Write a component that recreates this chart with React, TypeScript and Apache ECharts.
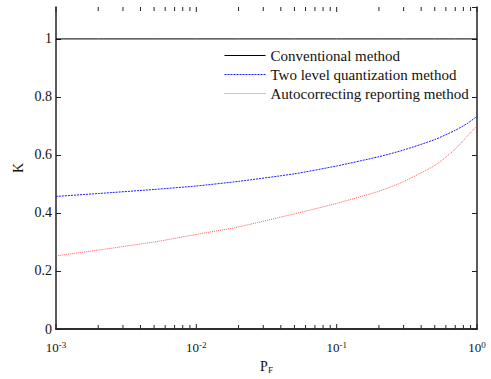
import React, { useEffect, useRef } from "react";
import * as echarts from "echarts";

const pfValues = [0.001, 0.002, 0.005, 0.01, 0.02, 0.05, 0.1, 0.2, 0.3, 0.5, 0.7, 0.85, 1];
const conventionalK = [1, 1, 1, 1, 1, 1, 1, 1, 1, 1, 1, 1, 1];
const twoLevelK = [0.457, 0.467, 0.481, 0.493, 0.509, 0.535, 0.562, 0.594, 0.617, 0.653, 0.685, 0.708, 0.733];
const autocorrectK = [0.252, 0.272, 0.3, 0.326, 0.352, 0.397, 0.433, 0.475, 0.508, 0.564, 0.62, 0.664, 0.7];
const seriesNames = ["Conventional method", "Two level quantization method", "Autocorrecting reporting method"];
const xDecades = [0.001, 0.01, 0.1, 1];
const minorFactors = [2, 3, 4, 5, 6, 7, 8, 9];

const FONT = "Liberation Serif";
const Y_MAX = 1.11;

export default function App() {
  const ref = useRef<HTMLDivElement>(null);
  useEffect(() => {
    if (!ref.current) return;
    const chart = echarts.init(ref.current, null, { renderer: "svg" });
    const tickData: number[][] = [];
    xDecades.forEach((d, i) => {
      tickData.push([d, 1]);
      if (i < xDecades.length - 1) minorFactors.forEach((f) => tickData.push([d * f, 0]));
    });
    const pair = (ys: number[]) => pfValues.map((x, i) => [x, ys[i]]);
    const tickStyle = { show: true, inside: true, length: 5, lineStyle: { color: "#222", width: 1 } };
    chart.setOption({
      animation: false,
      backgroundColor: "#fff",
      textStyle: { fontFamily: FONT },
      grid: { left: 56, right: 14, top: 7, bottom: 42 },
      legend: {
        orient: "vertical",
        left: 219,
        top: 43,
        itemWidth: 41,
        itemHeight: 12,
        itemGap: 4,
        data: seriesNames,
        itemStyle: { opacity: 0 },
        lineStyle: { width: 1 },
        textStyle: { fontFamily: FONT, fontSize: 15, color: "#111" },
      },
      xAxis: [
        {
          type: "log",
          position: "bottom",
          min: 0.001,
          max: 1,
          logBase: 10,
          name: "{p|P}{f|F}",
          nameLocation: "middle",
          nameGap: 30,
          nameTextStyle: {
            rich: {
              p: { fontFamily: FONT, fontSize: 14, color: "#111" },
              f: { fontFamily: FONT, fontSize: 9, color: "#111", verticalAlign: "bottom", padding: [6, 0, 0, 0] },
            },
          },
          axisLine: { show: true, lineStyle: { color: "#222", width: 1.5 } },
          axisTick: { show: false },
          splitLine: { show: false },
          axisLabel: {
            margin: 11,
            formatter: (v: number) => `{b|10}{s|${Math.round(Math.log10(v))}}`,
            rich: {
              b: { fontFamily: FONT, fontSize: 13, color: "#111" },
              s: { fontFamily: FONT, fontSize: 9, color: "#111", verticalAlign: "top", padding: [0, 0, 6, 0] },
            },
          },
        },
        {
          type: "log",
          position: "top",
          min: 0.001,
          max: 1,
          logBase: 10,
          axisLine: { show: true, lineStyle: { color: "#222", width: 1.5 } },
          axisTick: { show: false },
          axisLabel: { show: false },
          splitLine: { show: false },
        },
      ],
      yAxis: [
        {
          type: "value",
          min: 0,
          max: Y_MAX,
          interval: 0.2,
          position: "left",
          name: "K",
          nameLocation: "middle",
          nameGap: 31,
          nameMoveOverlap: false,
          nameTextStyle: { fontFamily: FONT, fontSize: 14, color: "#111" },
          axisLine: { show: true, lineStyle: { color: "#222", width: 1.5 } },
          axisTick: tickStyle,
          splitLine: { show: false },
          axisLabel: { showMaxLabel: false, margin: 4, fontFamily: FONT, fontSize: 14, color: "#111" },
        },
        {
          type: "value",
          min: 0,
          max: Y_MAX,
          interval: 0.2,
          position: "right",
          axisLine: { show: true, lineStyle: { color: "#222", width: 1.5 } },
          axisTick: tickStyle,
          splitLine: { show: false },
          axisLabel: { show: false },
        },
      ],
      series: [
        {
          name: seriesNames[0],
          type: "line",
          data: pair(conventionalK),
          symbol: "none",
          lineStyle: { color: "#000", width: 1, type: "solid" },
          itemStyle: { color: "#000" },
        },
        {
          name: seriesNames[1],
          type: "line",
          data: pair(twoLevelK),
          symbol: "none",
          smooth: 0.2,
          lineStyle: { color: "#1a1aff", width: 1, type: [2, 1] },
          itemStyle: { color: "#1a1aff" },
        },
        {
          name: seriesNames[2],
          type: "line",
          data: pair(autocorrectK),
          symbol: "none",
          smooth: 0.2,
          lineStyle: { color: "#ff5a5a", width: 1, type: [1, 1] },
          itemStyle: { color: "#ff5a5a" },
        },
        {
          name: "xticks",
          type: "custom",
          silent: true,
          clip: false,
          data: tickData,
          encode: { x: 0 },
          renderItem: (params: any, api: any) => {
            const x = api.value(0);
            const major = api.value(1) === 1;
            const len = major ? 5 : 4;
            const b = api.coord([x, 0]);
            const t = api.coord([x, Y_MAX]);
            const style = { stroke: "#222", lineWidth: 1 };
            return {
              type: "group",
              children: [
                { type: "line", shape: { x1: b[0], y1: b[1], x2: b[0], y2: b[1] - len }, style },
                { type: "line", shape: { x1: t[0], y1: t[1], x2: t[0], y2: t[1] + len }, style },
              ],
            };
          },
        },
      ],
    });
    return () => chart.dispose();
  }, []);
  return <div ref={ref} style={{ width: 491, height: 379, position: "absolute", left: 0, top: 0 }} />;
}
